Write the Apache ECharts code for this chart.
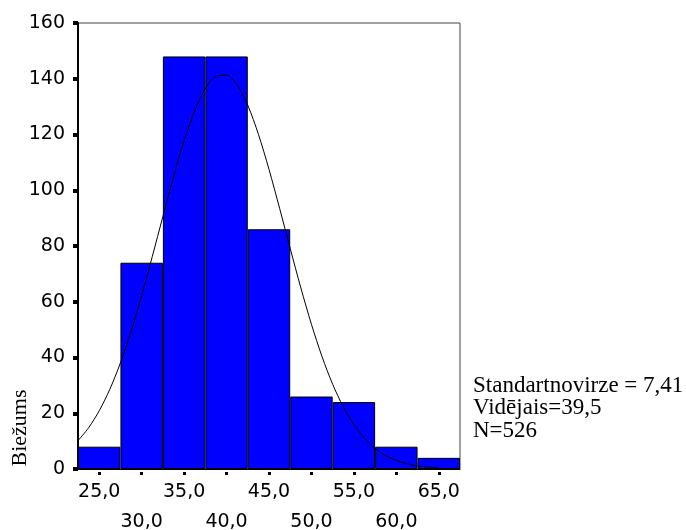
<!DOCTYPE html>
<html><head><meta charset="utf-8">
<script src="https://cdn.jsdelivr.net/npm/echarts@6/dist/echarts.min.js"></script>
<style>html,body{margin:0;padding:0;background:#fff}#c{width:686px;height:530px}</style>
</head><body><div id="c"></div>
<script>
// Histogram bins (centers) and counts
const binLabels = ['25,0','30,0','35,0','40,0','45,0','50,0','55,0','60,0','65,0'];
const binCounts = [8, 74, 148, 148, 86, 26, 24, 8, 4];
// Normal curve points: [x, frequency]
const curveX = [22.5, 23.75, 25, 26.25, 27.5, 28.75, 30, 31.25, 32.5, 33.75, 35, 36.25, 37.5, 38.75, 40, 41.25,
  42.5, 43.75, 45, 46.25, 47.5, 48.75, 50, 51.25, 52.5, 53.75, 55, 56.25, 57.5, 58.75, 60, 61.25, 62.5, 63.75, 65];
const curveY = [10.2, 14.8, 20.9, 28.6, 38.1, 49.4, 62.2, 76.2, 90.6, 104.8, 117.8, 128.6, 136.5, 140.9, 141.3, 137.7,
  130.5, 120.1, 107.5, 93.5, 79.1, 65.0, 51.9, 40.3, 30.4, 22.3, 15.9, 11.0, 7.4, 4.8, 3.1, 1.9, 1.1, 0.7, 0.4];
const yTicks = [0, 160, 20];
const statsLines = ['Standartnovirze = 7,41', 'Vidējais=39,5', 'N=526'];
const yTitle = 'Biežums';

const chart = echarts.init(document.getElementById('c'));
const sans = '"DejaVu Sans"';
const serif = '"Liberation Serif"';
chart.setOption({
  animation: false,
  backgroundColor: '#fff',
  grid: { left: 78, right: 226, top: 23, bottom: 61, show: true, borderColor: '#444', borderWidth: 1,
    backgroundColor: 'transparent', containLabel: false, outerBoundsMode: 'none' },
  xAxis: [
    { type: 'category', position: 'bottom', data: binLabels, boundaryGap: true,
      axisLine: { show: true, lineStyle: { color: '#000', width: 1 } },
      axisTick: { show: false },
      axisLabel: { interval: 0, margin: 8, fontFamily: sans, fontSize: 19, color: '#000', lineHeight: 30,
        formatter: (v, i) => (i % 2 === 1 ? '\n' + v : v) } },
    { type: 'value', position: 'bottom', min: 22.5, max: 67.5, show: false },
    { type: 'category', position: 'bottom', data: binLabels, boundaryGap: true, offset: 3,
      axisLine: { show: false }, axisLabel: { show: false },
      axisTick: { show: true, alignWithLabel: true, interval: 0, length: 3, lineStyle: { color: '#000', width: 3 } } }
  ],
  yAxis: {
    type: 'value', min: yTicks[0], max: yTicks[1], interval: yTicks[2],
    splitLine: { show: false },
    axisLine: { show: true, lineStyle: { color: '#000', width: 2 } },
    axisTick: { show: true, length: 5, lineStyle: { color: '#000', width: 4 } },
    axisLabel: { margin: 13, fontFamily: sans, fontSize: 19, color: '#000' }
  },
  series: [
    { type: 'bar', xAxisIndex: 0, data: binCounts, barWidth: '100%', barCategoryGap: 0,
      itemStyle: { color: '#0000FF', borderColor: '#000', borderWidth: 1 } },
    { type: 'line', xAxisIndex: 1, data: curveX.map((x, i) => [x, curveY[i]]),
      smooth: 0.3, showSymbol: false, lineStyle: { color: '#000', width: 1 }, z: 5 }
  ],
  graphic: [
    { type: 'text', left: 473, top: 374,
      style: { text: statsLines.join('\n'), font: '23px ' + serif, lineHeight: 22.5, fill: '#000' } },
    { type: 'text', x: 20, y: 428, rotation: Math.PI / 2,
      style: { text: yTitle, font: '22px ' + serif, fill: '#000', align: 'center', verticalAlign: 'middle' } }
  ]
});
</script></body></html>
